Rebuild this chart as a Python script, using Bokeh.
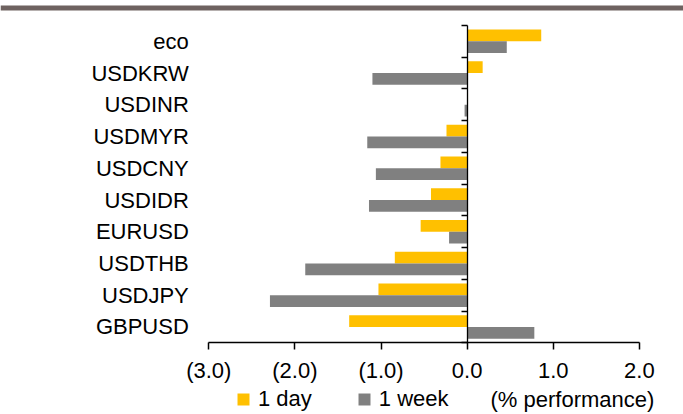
from bokeh.plotting import figure
from bokeh.models import (Range1d, LinearAxis, FixedTicker, Legend, LegendItem,
                          Label, BoxAnnotation, ColumnDataSource)
from bokeh.embed import file_html
from bokeh.resources import INLINE

# ---- data ----
categories = ["eco", "USDKRW", "USDINR", "USDMYR", "USDCNY", "USDIDR",
              "EURUSD", "USDTHB", "USDJPY", "GBPUSD"]
one_day = [0.86, 0.18, 0.01, -0.24, -0.31, -0.42, -0.54, -0.84, -1.03, -1.37]
one_week = [0.46, -1.10, -0.03, -1.16, -1.06, -1.14, -0.21, -1.88, -2.29, 0.78]
x_ticks = [-3, -2, -1, 0, 1, 2]
x_tick_labels = ["(3.0)", "(2.0)", "(1.0)", "0.0", "1.0", "2.0"]
series_names = ["1 day", "1 week"]
unit_note = "(% performance)"

FONT = "Liberation Sans"
FS = "22px"
ORANGE = "#FFC000"
GRAY = "#808080"

W, H = 683, 414
# pixel layout of the plotting area inside the canvas
PX_LEFT, PX_RIGHT, PX_TOP, PX_BOTTOM = 208.3, 638.9, 25.0, 342.3

n = len(categories)
xmin, xmax = x_ticks[0], x_ticks[-1]
ux = (PX_RIGHT - PX_LEFT) / (xmax - xmin)
uy = (PX_BOTTOM - PX_TOP) / n
x_start = xmin - PX_LEFT / ux
x_end = xmax + (W - PX_RIGHT) / ux
y_end = (n - 0.5) + PX_TOP / uy
y_start = -0.5 - (H - PX_BOTTOM) / uy

pos = [n - 1 - i for i in range(n)]          # eco at top
off = 0.185
bar_h = 0.37

src = ColumnDataSource(dict(
    y_day=[p_ + off for p_ in pos],
    y_week=[p_ - off for p_ in pos],
    day=one_day, week=one_week))

p = figure(width=W, height=H, output_backend="svg", toolbar_location=None,
           x_range=Range1d(x_start, x_end), y_range=Range1d(y_start, y_end),
           x_axis_type=None, y_axis_type=None,
           min_border=0, min_border_left=0, min_border_right=0,
           min_border_top=0, min_border_bottom=0)
p.outline_line_color = None
p.xgrid.visible = False
p.ygrid.visible = False
p.background_fill_color = "white"
p.border_fill_color = "white"

p.hbar(y="y_day", right="day", left=0, height=bar_h, source=src,
       fill_color=ORANGE, line_color=None)
p.hbar(y="y_week", right="week", left=0, height=bar_h, source=src,
       fill_color=GRAY, line_color=None)

# category labels axis
cat_axis = LinearAxis(ticker=FixedTicker(ticks=pos), fixed_location=xmin,
                      major_label_overrides={p_: c for p_, c in zip(pos, categories)})
cat_axis.axis_line_color = None
cat_axis.major_tick_line_color = None
cat_axis.minor_tick_line_color = None
cat_axis.major_tick_out = 0
cat_axis.major_tick_in = 0
cat_axis.major_label_standoff = 20
cat_axis.major_label_text_font = FONT
cat_axis.major_label_text_font_size = FS
cat_axis.major_label_text_color = "black"
p.add_layout(cat_axis, "left")

# zero axis with boundary ticks
bounds = [k - 0.5 for k in range(n + 1)]
zero_axis = LinearAxis(ticker=FixedTicker(ticks=bounds), fixed_location=0,
                       bounds=(-0.5, n - 0.5),
                       major_label_overrides={b: "" for b in bounds})
zero_axis.major_tick_in = 0
zero_axis.major_tick_out = 6
zero_axis.major_tick_line_width = 1.5
zero_axis.minor_tick_line_color = None
zero_axis.axis_line_color = "black"
zero_axis.axis_line_width = 1.3
zero_axis.major_tick_line_color = "black"
p.add_layout(zero_axis, "left")

# bottom axis
x_axis = LinearAxis(ticker=FixedTicker(ticks=x_ticks), fixed_location=-0.5,
                    bounds=(xmin, xmax),
                    major_label_overrides={t: l for t, l in zip(x_ticks, x_tick_labels)})
x_axis.axis_line_color = "black"
x_axis.axis_line_width = 1.3
x_axis.major_tick_line_color = "black"
x_axis.major_tick_line_width = 1.5
x_axis.major_tick_in = 0
x_axis.major_tick_out = 7
x_axis.minor_tick_line_color = None
x_axis.major_label_standoff = 8
x_axis.major_label_text_font = FONT
x_axis.major_label_text_font_size = FS
x_axis.major_label_text_color = "black"
p.add_layout(x_axis, "below")

# legend swatches: zero-size square markers on the bar ends (invisible in the plot)
lg_day = p.scatter(x="day", y="y_day", source=src, marker="square", size=0,
                   fill_color=ORANGE, line_color=None)
lg_week = p.scatter(x="week", y="y_week", source=src, marker="square", size=0,
                    fill_color=GRAY, line_color=None)
legend = Legend(items=[LegendItem(label=series_names[0], renderers=[lg_day]),
                       LegendItem(label=series_names[1], renderers=[lg_week])],
                orientation="horizontal", location=(228, 0),
                glyph_width=30, glyph_height=30, label_standoff=0,
                spacing=37, padding=0, margin=0,
                border_line_color=None, background_fill_alpha=0,
                label_text_font=FONT, label_text_font_size=FS,
                label_text_color="black", label_height=12)
p.add_layout(legend, "center")

p.add_layout(Label(x=490, y=H - 399, x_units="screen", y_units="screen",
                   text=unit_note, text_font=FONT, text_font_size=FS,
                   text_baseline="middle", text_align="left", text_color="black"))

# top rule
p.add_layout(BoxAnnotation(left=0, right=W, top=H - 5, bottom=H - 10,
                           left_units="screen", right_units="screen",
                           top_units="screen", bottom_units="screen",
                           fill_color="#6e6260", fill_alpha=1, line_color=None))

open("out.html", "w").write(file_html(p, INLINE))
